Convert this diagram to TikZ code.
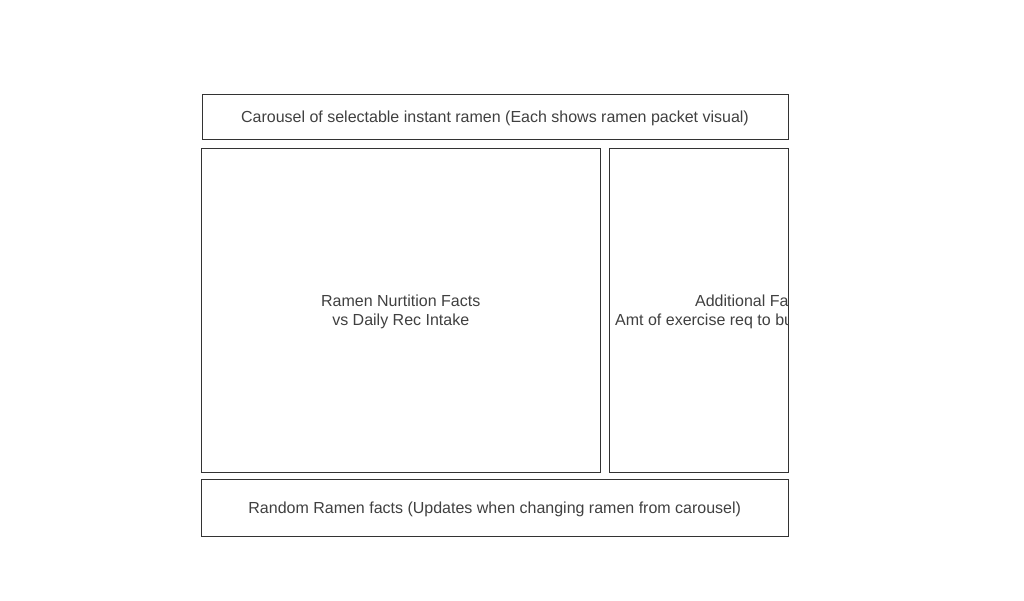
\documentclass[tikz,border=0pt]{standalone}
\usepackage{fontspec}
\setmainfont{Liberation Sans}
\definecolor{linegray}{HTML}{333333}
\definecolor{textgray}{HTML}{404040}
\begin{document}
\begin{tikzpicture}[x=1pt, y=-1pt,
		panel/.style={draw=linegray, line width=1pt, inner sep=0pt},
		label/.style={text=textgray, align=center, inner sep=0pt, yshift=-1.5pt, font=\fontsize{16}{19}\selectfont}]
		\useasboundingbox (0, 0) rectangle (1024, 600);
		% boxes
		\node[panel, minimum width=586, minimum height=45] (carousel) at (495, 116.75) {};
		\node[panel, minimum width=399, minimum height=324] (nutrition) at (400.75, 310.25) {};
		\node[panel, minimum width=179, minimum height=324] (extra) at (698.5, 310.25) {};
		\node[panel, minimum width=587, minimum height=57] (facts) at (494.75, 507.75) {};
		% texts
		\node[label] (carouseltext) at (carousel.center) {Carousel of selectable instant ramen (Each shows ramen packet visual)};
		\node[label] (nutritiontext) at (nutrition.center) {Ramen Nurtition Facts\\vs Daily Rec Intake};
		\node[label] (factstext) at (facts.center) {Random Ramen facts (Updates when changing ramen from carousel)};
		\begin{scope}
			\clip (extra.north west) rectangle (extra.south east);
			\node[label] (extratext) at (752, 310.25) {Additional Facts\\Amt of exercise req to burn off calories};
		\end{scope}
	\end{tikzpicture}
\end{document}
